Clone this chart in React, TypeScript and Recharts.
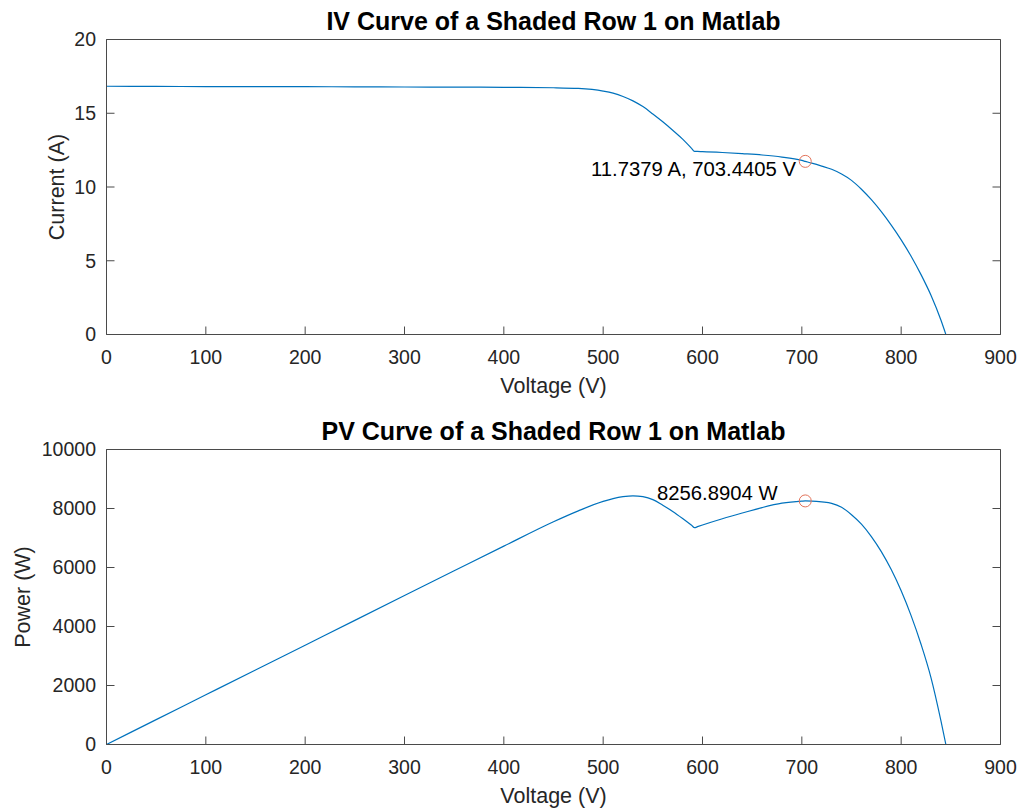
import React from 'react';
import { LineChart, Line, XAxis, YAxis, ReferenceDot } from 'recharts';

// ---- data ----
const voltage = [0, 50, 100, 150, 200, 250, 300, 350, 400, 450, 475, 500, 510, 520, 530, 540, 550, 560, 570, 580, 589, 592, 595, 600, 620, 640, 660, 680, 700, 703.4405, 710, 720, 730, 740, 750, 760, 770, 780, 790, 800, 810, 820, 830, 840, 845];
const current = [16.83, 16.82, 16.81, 16.8, 16.8, 16.79, 16.78, 16.77, 16.76, 16.73, 16.68, 16.5, 16.36, 16.14, 15.84, 15.45, 14.95, 14.42, 13.85, 13.25, 12.62, 12.42, 12.41, 12.4, 12.34, 12.26, 12.17, 12.03, 11.8, 11.7379, 11.62, 11.42, 11.2, 10.88, 10.45, 9.85, 9.14, 8.33, 7.42, 6.42, 5.31, 4.06, 2.66, 0.98, 0];
const power = [0, 842, 1684, 2526, 3367, 4208, 5048, 5887, 6724, 7551, 7920, 8240, 8335, 8400, 8430, 8400, 8300, 8110, 7900, 7660, 7430, 7350, 7384, 7440, 7651, 7846, 8032, 8180, 8250, 8256.8904, 8250, 8222, 8176, 8040, 7790, 7470, 7050, 6540, 5930, 5210, 4370, 3400, 2270, 810, 0];

const voltageTicks = [0, 100, 200, 300, 400, 500, 600, 700, 800, 900];
const currentTicks = [0, 5, 10, 15, 20];
const powerTicks = [0, 2000, 4000, 6000, 8000, 10000];

const tipVoltage = 703.4405;
const tipCurrent = 11.7379;
const tipPower = 8256.8904;
const tipCurrentText = '11.7379 A, 703.4405 V';
const tipPowerText = '8256.8904 W';

const ivTitle = 'IV Curve of a Shaded Row 1 on Matlab';
const pvTitle = 'PV Curve of a Shaded Row 1 on Matlab';
const xLabel = 'Voltage (V)';
const ivYLabel = 'Current (A)';
const pvYLabel = 'Power (W)';

const data = voltage.map((v, i) => ({ voltage: v, current: current[i], power: power[i] }));

const FONT = "'Liberation Sans', Arial, Helvetica, sans-serif";
const AX = '#262626';
const AXLINE = '#4a4a4a';
const LINE = '#0072BD';
const TIP = '#e3735a';
const TICK_LEN = 8;
const TICK_FS = 19.5;

const BottomTick = (p: any) => (
  <g>
    <line x1={p.x} y1={p.y} x2={p.x} y2={p.y - TICK_LEN} stroke={AXLINE} strokeWidth={1} />
    <text x={p.x} y={p.y + 29} textAnchor="middle" fontSize={TICK_FS} fontFamily={FONT} fill={AX}>
      {p.payload.value}
    </text>
  </g>
);

const TopTick = (p: any) => (
  <line x1={p.x} y1={p.y} x2={p.x} y2={p.y + TICK_LEN} stroke={AXLINE} strokeWidth={1} />
);

const LeftTick = (p: any) => (
  <g>
    <line x1={p.x} y1={p.y} x2={p.x + TICK_LEN} y2={p.y} stroke={AXLINE} strokeWidth={1} />
    <text x={p.x - 10.5} y={p.y} dy="0.355em" textAnchor="end" fontSize={TICK_FS} fontFamily={FONT} fill={AX}>
      {p.payload.value}
    </text>
  </g>
);

const RightTick = (p: any) => (
  <line x1={p.x} y1={p.y} x2={p.x - TICK_LEN} y2={p.y} stroke={AXLINE} strokeWidth={1} />
);

type PanelProps = {
  top: number;
  height: number;
  dataKey: string;
  yDomain: [number, number];
  yTicks: number[];
  marginTop: number;
  marginBottom: number;
  tipY: number;
  tipShape: (p: any) => React.ReactElement;
};

function Panel({ top, height, dataKey, yDomain, yTicks, marginTop, marginBottom, tipY, tipShape }: PanelProps) {
  const axisLine = { stroke: AXLINE, strokeWidth: 1 };
  return (
    <div style={{ position: 'absolute', left: 0, top, width: 1019, height }}>
      <LineChart
        width={1019}
        height={height}
        data={data}
        margin={{ top: marginTop, right: 17.5, bottom: marginBottom, left: 26.5 }}
      >
        <XAxis
          dataKey="voltage"
          type="number"
          domain={[0, 900]}
          ticks={voltageTicks}
          interval={0}
          allowDataOverflow
          height={40}
          tickSize={0}
          tickMargin={0}
          tickLine={false}
          tick={BottomTick}
          axisLine={axisLine}
        />
        <XAxis
          xAxisId="top"
          orientation="top"
          type="number"
          domain={[0, 900]}
          ticks={voltageTicks}
          interval={0}
          allowDataOverflow
          height={1}
          tickSize={0}
          tickMargin={0}
          tickLine={false}
          tick={TopTick}
          axisLine={axisLine}
        />
        <YAxis
          type="number"
          domain={yDomain}
          ticks={yTicks}
          interval={0}
          allowDataOverflow
          width={80}
          tickSize={0}
          tickMargin={0}
          tickLine={false}
          tick={LeftTick}
          axisLine={axisLine}
        />
        <YAxis
          yAxisId="right"
          orientation="right"
          type="number"
          domain={yDomain}
          ticks={yTicks}
          interval={0}
          allowDataOverflow
          width={1}
          tickSize={0}
          tickMargin={0}
          tickLine={false}
          tick={RightTick}
          axisLine={axisLine}
        />
        <Line
          type="monotone"
          dataKey={dataKey}
          stroke={LINE}
          strokeWidth={1.2}
          dot={false}
          activeDot={false}
          isAnimationActive={false}
        />
        <ReferenceDot x={tipVoltage} y={tipY} r={6} shape={tipShape} />
      </LineChart>
    </div>
  );
}

const ivTipShape = (p: any) => (
  <g>
    <circle cx={p.cx} cy={p.cy} r={6} fill="none" stroke={TIP} strokeWidth={1} />
    <text x={p.cx - 9.3} y={p.cy + 15} textAnchor="end" fontSize={20.3} fontFamily={FONT} fill="#000">
      {tipCurrentText}
    </text>
  </g>
);

const pvTipShape = (p: any) => (
  <g>
    <circle cx={p.cx} cy={p.cy} r={6} fill="none" stroke={TIP} strokeWidth={1} />
    <text x={p.cx - 27.6} y={p.cy - 1.4} textAnchor="end" fontSize={20.3} fontFamily={FONT} fill="#000">
      {tipPowerText}
    </text>
  </g>
);

export default function App() {
  return (
    <div style={{ position: 'absolute', left: 0, top: 0, width: 1019, height: 808, background: '#fff', overflow: 'hidden' }}>
      <Panel
        top={0}
        height={420}
        dataKey="current"
        yDomain={[0, 20]}
        yTicks={currentTicks}
        marginTop={38.5}
        marginBottom={45.5}
        tipY={tipCurrent}
        tipShape={ivTipShape}
      />
      <Panel
        top={410}
        height={398}
        dataKey="power"
        yDomain={[0, 10000]}
        yTicks={powerTicks}
        marginTop={38.5}
        marginBottom={23.5}
        tipY={tipPower}
        tipShape={pvTipShape}
      />
      <svg
        width={1019}
        height={808}
        style={{ position: 'absolute', left: 0, top: 0, pointerEvents: 'none' }}
      >
        <g fontFamily={FONT}>
          <text x={553.5} y={30} textAnchor="middle" fontSize={25} fontWeight="bold" fill="#000">{ivTitle}</text>
          <text x={553.5} y={440} textAnchor="middle" fontSize={25} fontWeight="bold" fill="#000">{pvTitle}</text>
          <text x={553.5} y={393} textAnchor="middle" fontSize={21.5} fill={AX}>{xLabel}</text>
          <text x={553.5} y={802.5} textAnchor="middle" fontSize={21.5} fill={AX}>{xLabel}</text>
          <text x={64} y={187} textAnchor="middle" fontSize={21.5} fill={AX} transform="rotate(-90 64 187)">{ivYLabel}</text>
          <text x={29.5} y={597} textAnchor="middle" fontSize={21.5} fill={AX} transform="rotate(-90 29.5 597)">{pvYLabel}</text>
        </g>
      </svg>
    </div>
  );
}
